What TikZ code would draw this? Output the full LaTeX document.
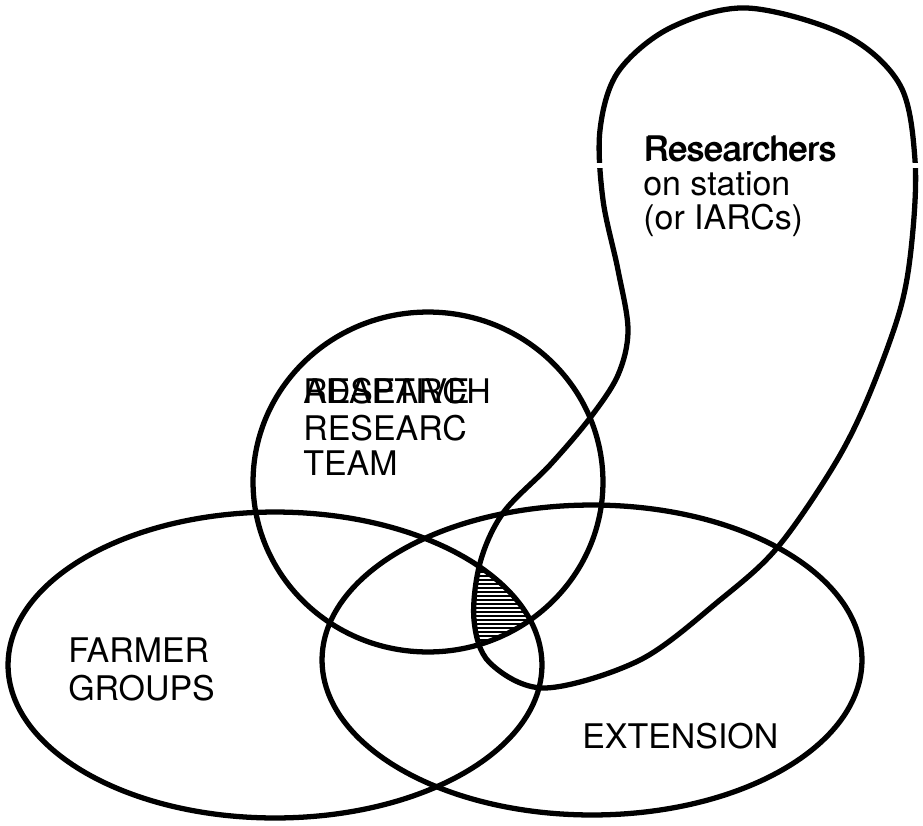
\documentclass[tikz,border=0pt]{standalone}
\usepackage{fontspec}
\setmainfont{TeX Gyre Heros}
\newcommand{\stationblob}{plot[smooth cycle, tension=0.55] coordinates {(747,8) (845,35) (900,85) (915,160) (912,240) (900,310) (867,400) (833,467) (777,548) (720,600) (640,660) (545,688) (490,663) (474,620) (480,563) (503,513) (550,465) (590,418) (618,375) (628,330) (618,270) (603,200) (600,130) (618,72) (670,28)}}
\begin{document}
\begin{tikzpicture}[x=0.02cm, y=-0.02cm,
  outline/.style={line width=3pt},
  lbl/.style={font=\fontsize{19.3}{20.5}\selectfont, inner sep=0pt, anchor=base west}]
\useasboundingbox (0,0) rectangle (923,825);

% hatched core
\begin{scope}
\clip \stationblob;
\clip (428,482) ellipse [x radius=3.5cm, y radius=3.4cm];
\clip (275,665) ellipse [x radius=5.34cm, y radius=3.06cm];
\foreach \y in {540,544,...,680}
  \draw[line width=1.1pt] (450,\y) -- (560,\y);
\end{scope}

\draw[outline] (428,482) ellipse [x radius=3.5cm, y radius=3.4cm];
\draw[outline] (275,665) ellipse [x radius=5.34cm, y radius=3.06cm];
\draw[outline] (592,660) ellipse [x radius=5.4cm, y radius=3.1cm];
\draw[outline] \stationblob;

% scan gap in the outline
\fill[white] (585,163) rectangle (625,168);
\fill[white] (895,163) rectangle (923,168);

\node[lbl] (res1) at (643,161) {Researchers};
\node[lbl] (res1b) at (644.5,160) {Researchers};
\node[lbl] (res2) at (643,195) {on station};
\node[lbl] (res3) at (643,229) {(or IARCs)};

\node[lbl] (team0) at (303,403) {ADAPTIVE};
\node[lbl] (team1) at (303,403) {RESEARCH};
\node[lbl] (team2) at (303,440) {RESEARC};
\node[lbl] (team3) at (303,475) {TEAM};

\node[lbl] (farm1) at (68,662) {FARMER};
\node[lbl] (farm2) at (68,700) {GROUPS};

\node[lbl] (ext) at (582,748) {EXTENSION};
\end{tikzpicture}
\end{document}
